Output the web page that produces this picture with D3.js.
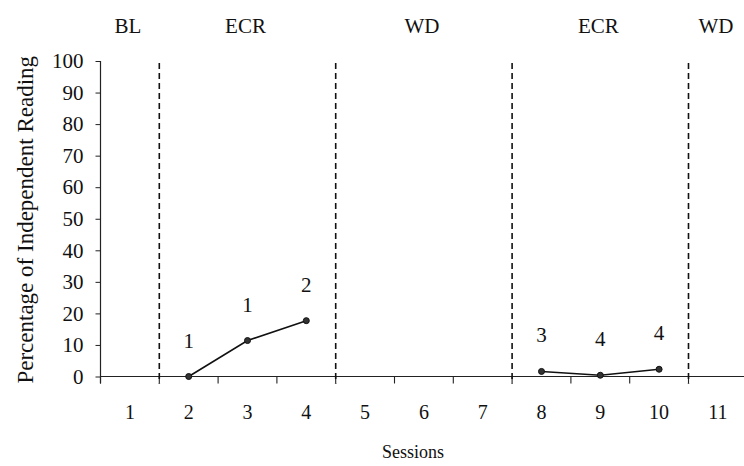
<!DOCTYPE html>
<html>
<head>
<meta charset="utf-8">
<script src="https://cdn.jsdelivr.net/npm/d3@7"></script>
<style>
  html, body { margin: 0; padding: 0; background: #fff; }
  svg { display: block; }
  text { font-family: "Liberation Serif", "Times New Roman", serif; fill: #111; }
</style>
</head>
<body>
<svg id="chart" width="744" height="466"></svg>
<script>
// ---- data ----
const sessions = [1, 2, 3, 4, 5, 6, 7, 8, 9, 10, 11];
const phaseLabels = ["BL", "ECR", "WD", "ECR", "WD"];
const phaseStart = [1, 2, 5, 8, 11];
const phaseEnd = [1, 4, 7, 10, 11];
const phaseLines = [1, 4, 7, 10]; // dashed line after these sessions
const seriesA_sessions = [2, 3, 4];
const seriesA_values = [0, 11.4, 17.7];
const seriesA_labels = ["1", "1", "2"];
const seriesB_sessions = [8, 9, 10];
const seriesB_values = [1.6, 0.4, 2.3];
const seriesB_labels = ["3", "4", "4"];
const yTicks = [0, 10, 20, 30, 40, 50, 60, 70, 80, 90, 100];

// ---- layout ----
const svg = d3.select("#chart");
const x0 = 100.5, bandW = 58.8;
const x = d3.scaleBand().domain(sessions).range([x0, x0 + bandW * sessions.length]).padding(0);
const y = d3.scaleLinear().domain([0, 100]).range([376.5, 61]);

// y axis
const yAxis = svg.append("g").attr("transform", `translate(${x0},0)`)
  .call(d3.axisLeft(y).tickValues(yTicks).tickSize(5).tickSizeOuter(0).tickPadding(12));
yAxis.select(".domain").attr("stroke", "#222").attr("stroke-width", 1.2)
  .attr("d", `M0,${y(100)}H0V${y(0) + 7}`);
yAxis.selectAll(".tick line").attr("stroke", "#222");
yAxis.selectAll(".tick text").style("font-size", "21px").attr("fill", "#111")
  .style("font-family", "Liberation Serif");

// x axis with ticks at band boundaries
const xg = svg.append("g").attr("transform", `translate(0,${y(0)})`);
xg.append("line").attr("x1", x0).attr("x2", 744).attr("y1", 0).attr("y2", 0)
  .attr("stroke", "#222").attr("stroke-width", 1.2);
const boundaries = sessions.map(s => x(s));
xg.selectAll("line.tk").data(boundaries).join("line").attr("class", "tk")
  .attr("x1", d => d).attr("x2", d => d).attr("y1", 0).attr("y2", 7)
  .attr("stroke", "#222").attr("stroke-width", 1.1);
xg.selectAll("text.tl").data(sessions).join("text").attr("class", "tl")
  .attr("x", d => x(d) + x.bandwidth() / 2).attr("y", 42.5)
  .attr("text-anchor", "middle").style("font-size", "20px").text(d => d);

// phase change dashed lines
svg.selectAll("line.phase").data(phaseLines).join("line").attr("class", "phase")
  .attr("x1", d => x(d) + x.bandwidth()).attr("x2", d => x(d) + x.bandwidth())
  .attr("y1", 63).attr("y2", y(0) + 7)
  .attr("stroke", "#111").attr("stroke-width", 1.6).attr("stroke-dasharray", "6,4");

// phase labels
svg.selectAll("text.phl").data(phaseLabels).join("text").attr("class", "phl")
  .attr("x", (d, i) => (x(phaseStart[i]) + x(phaseEnd[i]) + x.bandwidth()) / 2 - 2)
  .attr("y", 33).attr("text-anchor", "middle").style("font-size", "21px").text(d => d);

// series
const line = d3.line().x(d => x(d[0]) + x.bandwidth() / 2).y(d => y(d[1]));
function drawSeries(ss, vs, labs) {
  const pts = ss.map((s, i) => [s, vs[i], labs[i]]);
  svg.append("path").datum(pts).attr("d", line).attr("fill", "none")
    .attr("stroke", "#111").attr("stroke-width", 1.6);
  const g = svg.append("g");
  g.selectAll("circle").data(pts).join("circle")
    .attr("cx", d => x(d[0]) + x.bandwidth() / 2).attr("cy", d => y(d[1]))
    .attr("r", 3).attr("fill", "#333").attr("stroke", "#111").attr("stroke-width", 1);
  g.selectAll("text").data(pts).join("text")
    .attr("x", d => x(d[0]) + x.bandwidth() / 2).attr("y", d => y(d[1]) - 29)
    .attr("text-anchor", "middle").style("font-size", "21px").text(d => d[2]);
}
drawSeries(seriesA_sessions, seriesA_values, seriesA_labels);
drawSeries(seriesB_sessions, seriesB_values, seriesB_labels);

// axis titles
svg.append("text").attr("transform", `translate(33,${(y(0) + y(100)) / 2 + 1}) rotate(-90)`)
  .attr("text-anchor", "middle").style("font-size", "23px").text("Percentage of Independent Reading");
svg.append("text").attr("x", 413).attr("y", 458).attr("text-anchor", "middle")
  .style("font-size", "18px").text("Sessions");
</script>
</body>
</html>
